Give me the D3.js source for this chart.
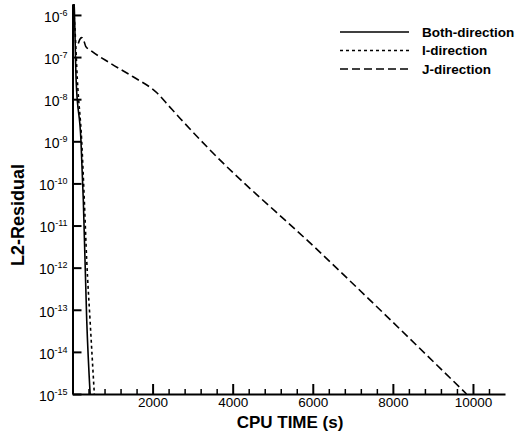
<!doctype html>
<html>
<head>
    <meta charset="utf-8">
    <title>L2 residual vs CPU time</title>
    <style>
        body { margin: 0; padding: 0; background: #fff; }
        text { font-family: Arial, "Liberation Sans", Helvetica, sans-serif; fill: #000; }
    </style>
</head>
<body>
    <svg id="chart" width="524" height="437"></svg>

    <script src="https://cdn.jsdelivr.net/npm/d3@7"></script>
    <script>
        // CPU time (s) and L2 residual
        var bothTime  = [0, 40, 90, 210, 270, 355, 440];
        var bothRes   = [3e-6, 1.8e-6, 2.9e-8, 1.1e-9, 4e-11, 5.7e-14, 1e-15];

        var iTime     = [0, 60, 120, 230, 295, 355, 438, 545];
        var iRes      = [2.5e-6, 5e-7, 3e-8, 1e-9, 4e-11, 1.5e-12, 5.7e-14, 1e-15];

        var jTime     = [145, 180, 230, 280, 330, 438, 938, 1513, 2113, 2400, 2700, 3388, 6063, 9840];
        var jRes      = [2.1e-7, 2.6e-7, 2.9e-7, 2.5e-7, 1.8e-7, 1.48e-7, 7.2e-8, 3.4e-8, 1.4e-8, 7.0e-9, 3.4e-9, 6.9e-10, 2.95e-12, 1e-15];

        var seriesNames = ["Both-direction", "I-direction", "J-direction"];
        var xTickValues = [2000, 4000, 6000, 8000, 10000];
        var yTickExps   = [-6, -7, -8, -9, -10, -11, -12, -13, -14, -15];

        var margin = {left: 72.5, right: 19, top: 4, bottom: 43},
            width = 524 - margin.left - margin.right,
            height = 437 - margin.top - margin.bottom;

        var svg = d3.select("#chart");
        var g = svg.append("g")
            .attr("transform", "translate(" + margin.left + "," + margin.top + ")");

        var x = d3.scaleLinear()
            .domain([0, 10800])
            .range([0, width]);

        var y = d3.scaleLog()
            .domain([1e-15, Math.pow(10, -5.74)])
            .range([height, 0]);

        g.append("clipPath").attr("id", "clip")
            .append("rect")
            .attr("width", width)
            .attr("height", height);

        var line = d3.line()
            .curve(d3.curveMonotoneX)
            .x(function(d) { return x(d[0]); })
            .y(function(d) { return y(d[1]); });

        var series = [
            {name: seriesNames[0], pts: d3.zip(bothTime, bothRes), dash: null},
            {name: seriesNames[1], pts: d3.zip(iTime, iRes), dash: "3,3"},
            {name: seriesNames[2], pts: d3.zip(jTime, jRes), dash: "8,4"}
        ];

        g.append("g").attr("clip-path", "url(#clip)")
            .selectAll("path")
            .data(series)
            .enter().append("path")
            .attr("d", function(d) { return line(d.pts); })
            .attr("fill", "none")
            .attr("stroke", "#000")
            .attr("stroke-width", 1.6)
            .attr("stroke-dasharray", function(d) { return d.dash; });

        // bottom axis: ticks point inward
        var minorTicks = d3.range(400, 10800, 400).filter(function(v) { return v % 2000 !== 0; });

        var xAxis = g.append("g").attr("transform", "translate(0," + height + ")");
        xAxis.call(d3.axisBottom(x).tickValues(minorTicks).tickSizeInner(-5).tickSizeOuter(0).tickFormat(""));
        xAxis.selectAll(".tick line").attr("stroke-width", 1.5);
        xAxis.select(".domain").attr("stroke-width", 2);

        var xMajor = g.append("g").attr("transform", "translate(0," + height + ")")
            .call(d3.axisBottom(x).tickValues(xTickValues).tickFormat(d3.format("d"))
                .tickSizeInner(-10).tickSizeOuter(0).tickPadding(3));
        xMajor.select(".domain").remove();
        xMajor.selectAll(".tick line").attr("stroke-width", 2);
        xMajor.selectAll(".tick text")
            .attr("font-size", "13.5px")
            .attr("font-family", "Arial, 'Liberation Sans', sans-serif");

        // left axis with 10^n labels
        var yAxis = g.append("g")
            .call(d3.axisLeft(y)
                .tickValues(yTickExps.map(function(e) { return Math.pow(10, e); }))
                .tickSizeInner(-9).tickSizeOuter(0).tickFormat(""));
        yAxis.select(".domain").attr("stroke-width", 2);
        yAxis.selectAll(".tick line").attr("stroke-width", 2);

        var yLab = yAxis.selectAll(".tick")
            .append("text")
            .attr("x", -5)
            .attr("dy", "0.45em")
            .attr("text-anchor", "end")
            .attr("font-size", "14px")
            .attr("font-family", "Arial, 'Liberation Sans', sans-serif")
            .attr("fill", "#000");
        yLab.each(function(d, i) {
            var t = d3.select(this);
            t.append("tspan").text("10");
            t.append("tspan").attr("font-size", "9px").attr("dy", "-6").text(yTickExps[i]);
        });

        // axis titles
        svg.append("text")
            .attr("x", 290)
            .attr("y", 428)
            .attr("text-anchor", "middle")
            .attr("font-size", "17px")
            .attr("font-weight", "bold")
            .text("CPU TIME (s)");

        svg.append("text")
            .attr("transform", "translate(24,215) rotate(-90)")
            .attr("text-anchor", "middle")
            .attr("font-size", "18px")
            .attr("font-weight", "bold")
            .text("L2-Residual");

        // legend
        var legend = svg.append("g").attr("transform", "translate(340,32)");
        var item = legend.selectAll("g")
            .data(series)
            .enter().append("g")
            .attr("transform", function(d, i) { return "translate(0," + (i * 18.5) + ")"; });
        item.append("line")
            .attr("x1", 0).attr("x2", 69)
            .attr("stroke", "#000")
            .attr("stroke-width", 1.6)
            .attr("stroke-dasharray", function(d) { return d.dash; });
        item.append("text")
            .attr("x", 82)
            .attr("dy", "0.36em")
            .attr("font-size", "13.5px")
            .attr("font-weight", "bold")
            .text(function(d) { return d.name; });
    </script>
</body>
</html>
